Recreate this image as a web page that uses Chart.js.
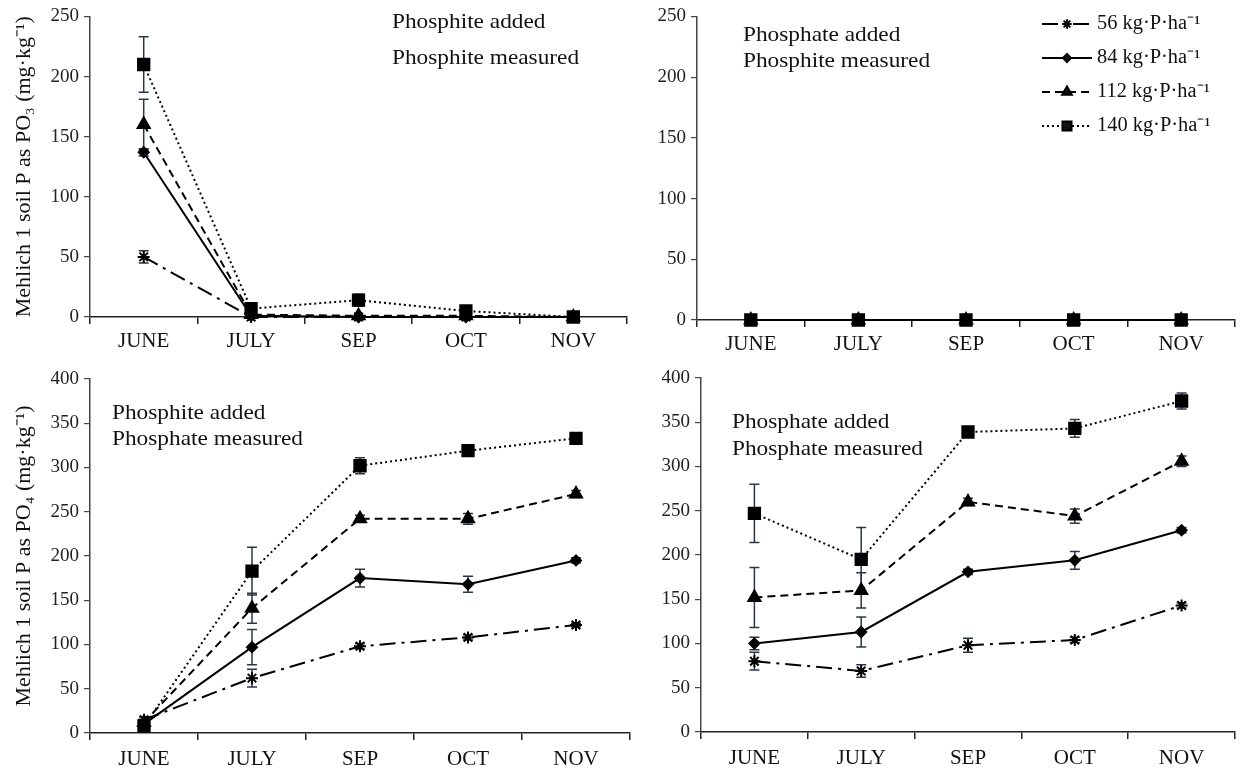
<!DOCTYPE html>
<html>
<head>
<meta charset="utf-8">
<script src="https://cdn.jsdelivr.net/npm/chart.js@4.4.1/dist/chart.umd.min.js"></script>
<style>
    body { margin: 0; background: #fff; width: 1245px; height: 770px; overflow: hidden; position: relative; }
    .painel { position: absolute; }
</style>
</head>
<body>
<div class="painel" style="left:0;top:0;width:640px;height:365px"><canvas id="g1"></canvas></div>
<div class="painel" style="left:620px;top:0;width:625px;height:365px"><canvas id="g2"></canvas></div>
<div class="painel" style="left:0;top:360px;width:640px;height:410px"><canvas id="g3"></canvas></div>
<div class="painel" style="left:620px;top:360px;width:625px;height:410px"><canvas id="g4"></canvas></div>
<script>
var MONTHS = ['JUNE', 'JULY', 'SEP', 'OCT', 'NOV'];
var DOSES = ['56 kg·P·ha⁻¹', '84 kg·P·ha⁻¹', '112 kg·P·ha⁻¹', '140 kg·P·ha⁻¹'];
var TICKS_PO3 = [0, 50, 100, 150, 200, 250];
var TICKS_PO4 = [0, 50, 100, 150, 200, 250, 300, 350, 400];

/* phosphite added, phosphite measured */
var PITE_PITE_56 = [50, 0, 0, 0, 0];
var PITE_PITE_84 = [137, 1, 0, 0, 0];
var PITE_PITE_112 = [160, 2, 1, 1, 0];
var PITE_PITE_140 = [210, 7, 14, 5, 0];
var PITE_PITE_56_ERR = [5, 0, 0, 0, 0];
var PITE_PITE_84_ERR = [3, 0, 0, 0, 0];
var PITE_PITE_112_ERR = [21, 0, 0, 0, 0];
var PITE_PITE_140_ERR = [23, 0, 5, 2, 0];

/* phosphate added, phosphite measured */
var PATO_PITE_56 = [0, 0, 0, 0, 0];
var PATO_PITE_84 = [0, 0, 0, 0, 0];
var PATO_PITE_112 = [0, 0, 0, 0, 0];
var PATO_PITE_140 = [0, 0, 0, 0, 0];

/* phosphite added, phosphate measured */
var PITE_PATO_56 = [15, 62, 98, 108, 122];
var PITE_PATO_84 = [10, 97, 175, 168, 195];
var PITE_PATO_112 = [12, 141, 242, 242, 270];
var PITE_PATO_140 = [8, 183, 302, 319, 333];
var PITE_PATO_56_ERR = [3, 10, 3, 3, 2];
var PITE_PATO_84_ERR = [2, 20, 10, 9, 3];
var PITE_PATO_112_ERR = [3, 17, 4, 6, 4];
var PITE_PATO_140_ERR = [2, 27, 9, 3, 3];

/* phosphate added, phosphate measured */
var PATO_PATO_56 = [80, 69, 98, 104, 143];
var PATO_PATO_84 = [100, 113, 181, 194, 228];
var PATO_PATO_112 = [152, 160, 260, 244, 306];
var PATO_PATO_140 = [247, 195, 339, 343, 374];
var PATO_PATO_56_ERR = [10, 7, 8, 3, 3];
var PATO_PATO_84_ERR = [7, 17, 3, 10, 3];
var PATO_PATO_112_ERR = [34, 20, 4, 8, 6];
var PATO_PATO_140_ERR = [33, 36, 3, 10, 9];

var FONTE = "'Liberation Serif', 'Times New Roman', serif";
var ESTILOS = [
    { ponto: 'star', dash: [16, 6, 3, 6], raio: 6 },
    { ponto: 'rectRot', dash: [], raio: 5 },
    { ponto: 'triangle', dash: [8, 5], raio: 7 },
    { ponto: 'rect', dash: [2, 3], raio: 8 }
];

// error bars, drawn under the markers
var barrasErro = {
    id: 'barrasErro',
    beforeDatasetsDraw: function (chart) {
        var ctx = chart.ctx, y = chart.scales.y;
        ctx.save();
        ctx.strokeStyle = '#2c3645';
        ctx.lineWidth = 1.5;
        chart.data.datasets.forEach(function (ds, i) {
            if (!ds.erros) return;
            chart.getDatasetMeta(i).data.forEach(function (pt, j) {
                var e = ds.erros[j];
                if (!e) return;
                var t = y.getPixelForValue(ds.data[j] + e), b = y.getPixelForValue(ds.data[j] - e);
                ctx.beginPath();
                ctx.moveTo(pt.x, t); ctx.lineTo(pt.x, b);
                ctx.moveTo(pt.x - 5, t); ctx.lineTo(pt.x + 5, t);
                ctx.moveTo(pt.x - 5, b); ctx.lineTo(pt.x + 5, b);
                ctx.stroke();
            });
        });
        ctx.restore();
    }
};

// text a bit wider than the font, like the original scan
function textoLargo(ctx, txt, x, y, fator) {
    ctx.save();
    ctx.translate(x, y);
    ctx.scale(fator, 1);
    ctx.fillText(txt, 0, 0);
    ctx.restore();
}

// panel notes and the legend
var textos = {
    id: 'textos',
    afterDraw: function (chart) {
        var o = chart.options.plugins.textos, ctx = chart.ctx;
        ctx.save();
        ctx.fillStyle = '#111';
        ctx.textBaseline = 'middle';
        ctx.font = '21px ' + FONTE;
        o.nota.forEach(function (linha, k) {
            textoLargo(ctx, linha, o.x, o.y + k * o.passo, 1.11);
        });
        if (o.legenda) {
            ESTILOS.forEach(function (est, k) {
                var ly = o.legenda.y + k * o.legenda.passo, lx = o.legenda.x;
                ctx.strokeStyle = '#000';
                ctx.lineWidth = 2;
                ctx.setLineDash(est.dash);
                ctx.beginPath();
                ctx.moveTo(lx, ly); ctx.lineTo(lx + 50, ly);
                ctx.stroke();
                ctx.setLineDash([]);
                Chart.helpers.drawPoint(ctx, { pointStyle: est.ponto, radius: est.raio * 0.8, borderWidth: 2, rotation: 0 }, lx + 25, ly);
                ctx.font = '20px ' + FONTE;
                textoLargo(ctx, DOSES[k], lx + 55, ly, 1.02);
            });
        }
        ctx.restore();
    }
};

function series(valores, erros) {
    return valores.map(function (v, k) {
        var est = ESTILOS[k];
        return {
            label: DOSES[k],
            data: v,
            erros: erros ? erros[k] : null,
            borderColor: '#000',
            backgroundColor: '#000',
            borderWidth: 2,
            borderDash: est.dash,
            pointStyle: est.ponto,
            pointRadius: est.raio,
            pointBorderWidth: 2,
            pointBackgroundColor: '#000',
            pointBorderColor: '#000',
            tension: 0,
            clip: false
        };
    });
}

function GerarPainel(id, datasets, ticks, cfg) {
    var ctx = document.getElementById(id).getContext('2d');
    return new Chart(ctx, {
        type: 'line',
        data: { labels: MONTHS, datasets: datasets },
        options: {
            animation: false,
            responsive: true,
            maintainAspectRatio: false,
            layout: { padding: { top: cfg.topo, right: cfg.direita, bottom: 0, left: 0 } },
            plugins: {
                legend: { display: false },
                tooltip: { enabled: false },
                textos: cfg.textos
            },
            scales: {
                x: {
                    offset: true,
                    grid: { offset: true, drawOnChartArea: false, tickLength: 7, color: '#222', lineWidth: 1.5 },
                    border: { color: '#222', width: 1.5 },
                    ticks: { color: '#111', font: { family: FONTE, size: 21 }, padding: cfg.padX },
                    afterFit: function (s) { s.height = cfg.altX; }
                },
                y: {
                    min: ticks[0],
                    max: ticks[ticks.length - 1],
                    afterBuildTicks: function (s) { s.ticks = ticks.map(function (v) { return { value: v }; }); },
                    grid: { drawOnChartArea: false, tickLength: 6, color: '#444', lineWidth: 1.2 },
                    border: { color: '#444', width: 1.5 },
                    ticks: { color: '#222', font: { family: FONTE, size: 19 }, padding: 5 },
                    title: {
                        display: !!cfg.titulo,
                        text: cfg.titulo,
                        color: '#111',
                        font: { family: FONTE, size: 22 },
                        padding: { top: 11, bottom: 0 }
                    },
                    afterFit: function (s) { s.width = cfg.largY; }
                }
            }
        },
        plugins: [barrasErro, textos]
    });
}

GerarPainel('g1',
    series([PITE_PITE_56, PITE_PITE_84, PITE_PITE_112, PITE_PITE_140],
        [PITE_PITE_56_ERR, PITE_PITE_84_ERR, PITE_PITE_112_ERR, PITE_PITE_140_ERR]),
    TICKS_PO3,
    { topo: 16, direita: 13, altX: 48, largY: 90, padX: 5, titulo: 'Mehlich 1 soil P as PO₃ (mg·kg⁻¹)',
      textos: { nota: ['Phosphite added', 'Phosphite measured'], x: 392, y: 22, passo: 36 } });

GerarPainel('g2',
    series([PATO_PITE_56, PATO_PITE_84, PATO_PITE_112, PATO_PITE_140]),
    TICKS_PO3,
    { topo: 15, direita: 2, altX: 45, largY: 77, padX: 5, titulo: '',
      textos: { nota: ['Phosphate added', 'Phosphite measured'], x: 123, y: 35, passo: 26,
                legenda: { x: 422, y: 24, passo: 34 } } });

GerarPainel('g3',
    series([PITE_PATO_56, PITE_PATO_84, PITE_PATO_112, PITE_PATO_140],
        [PITE_PATO_56_ERR, PITE_PATO_84_ERR, PITE_PATO_112_ERR, PITE_PATO_140_ERR]),
    TICKS_PO4,
    { topo: 19, direita: 10, altX: 37, largY: 90, padX: 7, titulo: 'Mehlich 1 soil P as PO₄ (mg·kg⁻¹)',
      textos: { nota: ['Phosphite added', 'Phosphate measured'], x: 112, y: 53, passo: 26 } });

GerarPainel('g4',
    series([PATO_PATO_56, PATO_PATO_84, PATO_PATO_112, PATO_PATO_140],
        [PATO_PATO_56_ERR, PATO_PATO_84_ERR, PATO_PATO_112_ERR, PATO_PATO_140_ERR]),
    TICKS_PO4,
    { topo: 18, direita: 2, altX: 38, largY: 81, padX: 7, titulo: '',
      textos: { nota: ['Phosphate added', 'Phosphate measured'], x: 112, y: 62, passo: 27 } });
</script>
</body>
</html>
